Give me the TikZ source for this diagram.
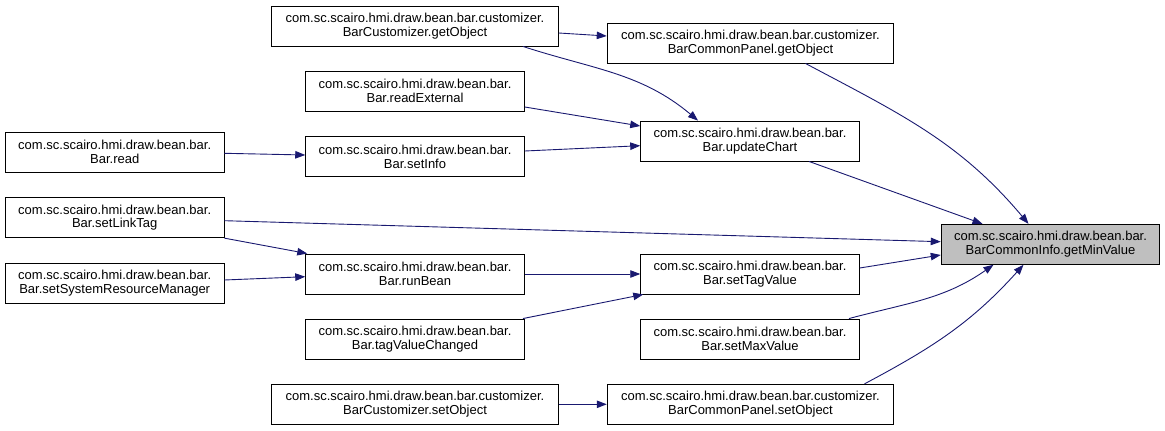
\documentclass[tikz,border=0pt]{standalone}
\usepackage{fontspec}
\setmainfont{Liberation Sans}
\usetikzlibrary{arrows.meta}
\definecolor{edgeblue}{HTML}{191970}
\definecolor{hlgray}{HTML}{BFBFBF}
\begin{document}
\begin{tikzpicture}[x=1pt,y=-1pt,
  fn/.style={draw=black, line width=0.9pt, fill=white, rectangle, inner sep=0pt,
    minimum height=40pt, align=center, font=\fontsize{13}{13.6}\selectfont},
  wbox/.style={fn, minimum width=218.6pt},
  lbox/.style={fn, minimum width=286.6pt},
  hbox/.style={wbox, fill=hlgray},
  call/.style={draw=edgeblue, line width=0.9pt, -{Triangle[length=10pt,width=7.5pt]}, color=edgeblue}]
\useasboundingbox (0,0) rectangle (1165,431);
\node[lbox] (n1) at (415,26) {com.sc.scairo.hmi.draw.bean.bar.customizer.\\BarCustomizer.getObject};
\node[lbox] (n2) at (750.5,43) {com.sc.scairo.hmi.draw.bean.bar.customizer.\\BarCommonPanel.getObject};
\node[wbox] (n3) at (415,91) {com.sc.scairo.hmi.draw.bean.bar.\\Bar.readExternal};
\node[wbox] (n4) at (114.7,152) {com.sc.scairo.hmi.draw.bean.bar.\\Bar.read};
\node[wbox] (n5) at (415,156.7) {com.sc.scairo.hmi.draw.bean.bar.\\Bar.setInfo};
\node[wbox] (n6) at (750,141) {com.sc.scairo.hmi.draw.bean.bar.\\Bar.updateChart};
\node[wbox] (n7) at (114.7,217.7) {com.sc.scairo.hmi.draw.bean.bar.\\Bar.setLinkTag};
\node[wbox] (n8) at (114.7,283) {com.sc.scairo.hmi.draw.bean.bar.\\Bar.setSystemResourceManager};
\node[wbox] (n9) at (415,274) {com.sc.scairo.hmi.draw.bean.bar.\\Bar.runBean};
\node[wbox] (n10) at (750,274) {com.sc.scairo.hmi.draw.bean.bar.\\Bar.setTagValue};
\node[wbox] (n11) at (415,339) {com.sc.scairo.hmi.draw.bean.bar.\\Bar.tagValueChanged};
\node[wbox] (n12) at (750,339) {com.sc.scairo.hmi.draw.bean.bar.\\Bar.setMaxValue};
\node[lbox] (n13) at (415,404.3) {com.sc.scairo.hmi.draw.bean.bar.customizer.\\BarCustomizer.setObject};
\node[lbox] (n14) at (750.5,404.3) {com.sc.scairo.hmi.draw.bean.bar.customizer.\\BarCommonPanel.setObject};
\node[hbox] (n15) at (1050.5,244.3) {com.sc.scairo.hmi.draw.bean.bar.\\BarCommonInfo.getMinValue};

\draw[call] ([yshift=-7pt]n1.east) -- ([yshift=7pt]n2.west);
\draw[call] ([xshift=108pt]n1.south) to[out=-18,in=140] ([xshift=-52pt]n6.north);
\draw[call] ([yshift=-16pt]n3.east) -- ([yshift=15pt]n6.west);
\draw[call] ([yshift=5.7pt]n5.east) -- ([yshift=-4.7pt]n6.west);
\draw[call] ([yshift=-1.3pt]n4.east) -- ([yshift=1.7pt]n5.west);
\draw[call] ([xshift=55pt]n2.south) to[out=-28,in=130] ([xshift=-22pt]n15.north);
\draw[call] ([xshift=59pt]n6.south) -- ([xshift=-68pt]n15.north);
\draw[call] ([yshift=-3pt]n7.east) -- ([yshift=2.6pt]n15.west);
\draw[call] ([yshift=6pt]n10.east) -- ([yshift=-10.7pt]n15.west);
\draw[call] ([xshift=99pt]n12.north) to[out=15,in=-145] ([xshift=-57pt]n15.south);
\draw[call] ([xshift=114pt]n14.north) to[out=28,in=-132] ([xshift=-27pt]n15.south);
\draw[call] (n7.south east) -- ([xshift=2pt]n9.north west);
\draw[call] ([yshift=3pt]n8.east) -- ([yshift=-2.7pt]n9.west);
\draw[call] (n9.east) -- (n10.west);
\draw[call] ([xshift=108pt]n11.north) -- ([xshift=3pt]n10.south west);
\draw[call] (n13.east) -- (n14.west);
\end{tikzpicture}
\end{document}
